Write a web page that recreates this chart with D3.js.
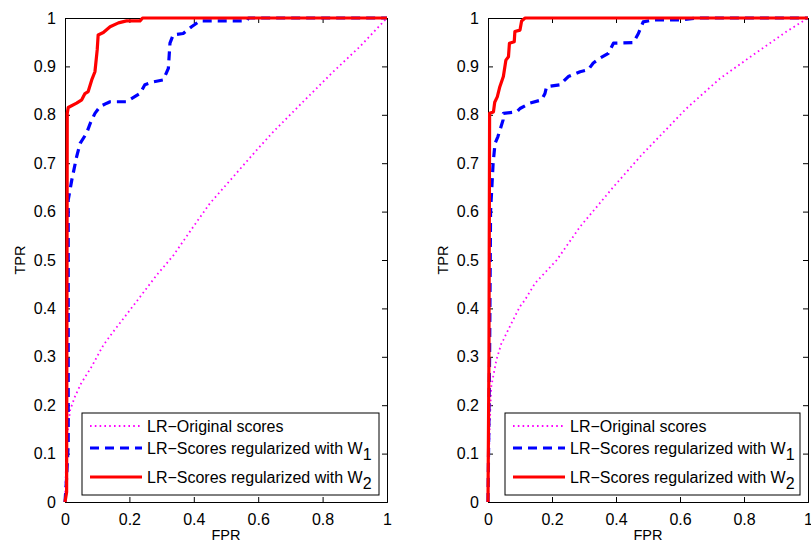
<!DOCTYPE html>
<html>
<head>
<meta charset="utf-8">
<script src="https://cdn.jsdelivr.net/npm/d3@7"></script>
<style>
  body { margin: 0; background: #fff; }
  svg { display: block; font-family: "Liberation Sans", Arial, sans-serif; }
</style>
</head>
<body>
<div id="container"></div>
<script>
// ROC points, [FPR, TPR]
const leftOriginal = [[0,0],[0.004,0.1],[0.01,0.16],[0.016,0.19],[0.031,0.218],[0.05,0.245],[0.083,0.28],[0.119,0.324],[0.15,0.352],[0.2,0.395],[0.285,0.469],[0.336,0.509],[0.404,0.574],[0.45,0.617],[0.52,0.67],[0.595,0.727],[0.647,0.765],[0.75,0.834],[0.833,0.889],[0.916,0.941],[1,1]];
const leftW1 = [[0,0],[0.005,0.05],[0.01,0.12],[0.01,0.624],[0.021,0.665],[0.036,0.713],[0.047,0.741],[0.067,0.762],[0.08,0.785],[0.093,0.803],[0.109,0.817],[0.13,0.824],[0.14,0.827],[0.19,0.827],[0.233,0.844],[0.248,0.862],[0.274,0.868],[0.305,0.872],[0.321,0.896],[0.326,0.948],[0.336,0.965],[0.367,0.968],[0.393,0.982],[0.419,0.994],[0.564,0.994],[0.57,1],[1,1]];
const leftW2 = [[0,0],[0.005,0.02],[0.007,0.803],[0.01,0.815],[0.036,0.824],[0.052,0.831],[0.062,0.844],[0.072,0.848],[0.083,0.872],[0.093,0.889],[0.1,0.934],[0.103,0.965],[0.119,0.97],[0.14,0.982],[0.166,0.99],[0.191,0.994],[0.233,0.994],[0.241,1],[1,1]];

const rightOriginal = [[0,0],[0.005,0.15],[0.01,0.238],[0.026,0.293],[0.042,0.328],[0.048,0.335],[0.073,0.369],[0.1,0.404],[0.115,0.417],[0.147,0.452],[0.215,0.5],[0.288,0.569],[0.392,0.651],[0.48,0.717],[0.62,0.813],[0.725,0.875],[0.829,0.924],[0.933,0.972],[1,1]];
const rightW1 = [[0,0],[0.005,0.3],[0.008,0.6],[0.016,0.7],[0.022,0.741],[0.031,0.755],[0.047,0.789],[0.048,0.803],[0.09,0.806],[0.1,0.813],[0.131,0.824],[0.168,0.831],[0.178,0.844],[0.183,0.858],[0.225,0.862],[0.251,0.879],[0.288,0.889],[0.313,0.893],[0.329,0.907],[0.35,0.917],[0.376,0.927],[0.392,0.948],[0.454,0.949],[0.47,0.968],[0.485,0.992],[0.517,0.996],[0.6,0.996],[0.652,1],[1,1]];
const rightW2 = [[0,0],[0.003,0.3],[0.005,0.803],[0.017,0.806],[0.021,0.826],[0.029,0.837],[0.037,0.858],[0.048,0.879],[0.056,0.913],[0.064,0.92],[0.067,0.948],[0.082,0.951],[0.084,0.972],[0.1,0.975],[0.105,0.994],[0.116,1],[1,1]];

const xTicks = [0, 0.2, 0.4, 0.6, 0.8, 1];
const yTicks = [0, 0.1, 0.2, 0.3, 0.4, 0.5, 0.6, 0.7, 0.8, 0.9, 1];
const legendLabels = ["LR\u2212Original scores", "LR\u2212Scores regularized with W", "LR\u2212Scores regularized with W"];
const legendSubs = ["", "1", "2"];

const width = 811;
const height = 542;
const plotTop = 18, plotBottom = 502;

const styles = [
  {color: "#ff00ff", width: 1.8, dash: "1.6,3.2"},
  {color: "#0000ff", width: 3.2, dash: "9,6"},
  {color: "#ff0000", width: 3.2, dash: null}
];

const svg = d3.create("svg")
    .attr("width", width)
    .attr("height", height)
    .attr("viewBox", [0, 0, width, height]);

const panels = [
  {left: 65, right: 387, series: [leftOriginal, leftW1, leftW2]},
  {left: 488, right: 808, series: [rightOriginal, rightW1, rightW2]}
];

panels.forEach(p => {
  const x = d3.scaleLinear().domain([0, 1]).range([p.left, p.right]);
  const y = d3.scaleLinear().domain([0, 1]).range([plotBottom, plotTop]);
  const g = svg.append("g");

  // axes, ticks pointing inward like matlab
  g.append("g")
      .attr("transform", `translate(0,${plotBottom})`)
      .call(d3.axisBottom(x).tickValues(xTicks).tickSize(-5).tickPadding(12).tickFormat(d3.format("")))
      .call(a => a.selectAll("text").attr("font-size", 16).attr("font-family", "Liberation Sans, Arial"));
  g.append("g")
      .attr("transform", `translate(0,${plotTop})`)
      .call(d3.axisTop(x).tickValues(xTicks).tickSize(-5).tickFormat(""));
  g.append("g")
      .attr("transform", `translate(${p.left},0)`)
      .call(d3.axisLeft(y).tickValues(yTicks).tickSize(-5).tickPadding(9).tickFormat(d3.format("")))
      .call(a => a.selectAll("text").attr("font-size", 16).attr("font-family", "Liberation Sans, Arial"));
  g.append("g")
      .attr("transform", `translate(${p.right},0)`)
      .call(d3.axisRight(y).tickValues(yTicks).tickSize(-5).tickFormat(""));
  g.selectAll(".domain").attr("stroke", "#000");
  g.selectAll(".tick line").attr("stroke", "#000");
  g.selectAll(".tick text").attr("fill", "#000");

  // curves
  const line = d3.line().x(d => x(d[0])).y(d => y(d[1]));
  p.series.forEach((s, i) => {
    g.append("path")
        .datum(s)
        .attr("fill", "none")
        .attr("stroke", styles[i].color)
        .attr("stroke-width", styles[i].width)
        .attr("stroke-dasharray", styles[i].dash)
        .attr("stroke-linejoin", "round")
        .attr("d", line);
  });

  // axis labels
  g.append("text")
      .attr("x", (p.left + p.right) / 2)
      .attr("y", 540)
      .attr("text-anchor", "middle")
      .attr("font-size", 14.5)
      .text("FPR");
  g.append("text")
      .attr("transform", `translate(${p.left - 40},${(plotTop + plotBottom) / 2}) rotate(-90)`)
      .attr("text-anchor", "middle")
      .attr("font-size", 14.5)
      .text("TPR");

  // legend
  const lx = p.left + 17, ly = 413;
  const lg = g.append("g");
  lg.append("rect")
      .attr("x", lx).attr("y", ly)
      .attr("width", p.right - 8 - lx).attr("height", 82)
      .attr("fill", "#fff").attr("stroke", "#000").attr("stroke-width", 1);
  const rows = [13, 35, 64];
  legendLabels.forEach((lab, i) => {
    const ry = ly + rows[i];
    lg.append("line")
        .attr("x1", lx + 8).attr("x2", lx + 60)
        .attr("y1", ry).attr("y2", ry)
        .attr("stroke", styles[i].color)
        .attr("stroke-width", styles[i].width)
        .attr("stroke-dasharray", styles[i].dash);
    const t = lg.append("text")
        .attr("x", lx + 65).attr("y", ry + 6)
        .attr("font-size", 16)
        .text(lab);
    if (legendSubs[i]) {
      t.append("tspan").attr("dy", 6).text(legendSubs[i]);
    }
  });
});

container.append(svg.node());
</script>
</body>
</html>
